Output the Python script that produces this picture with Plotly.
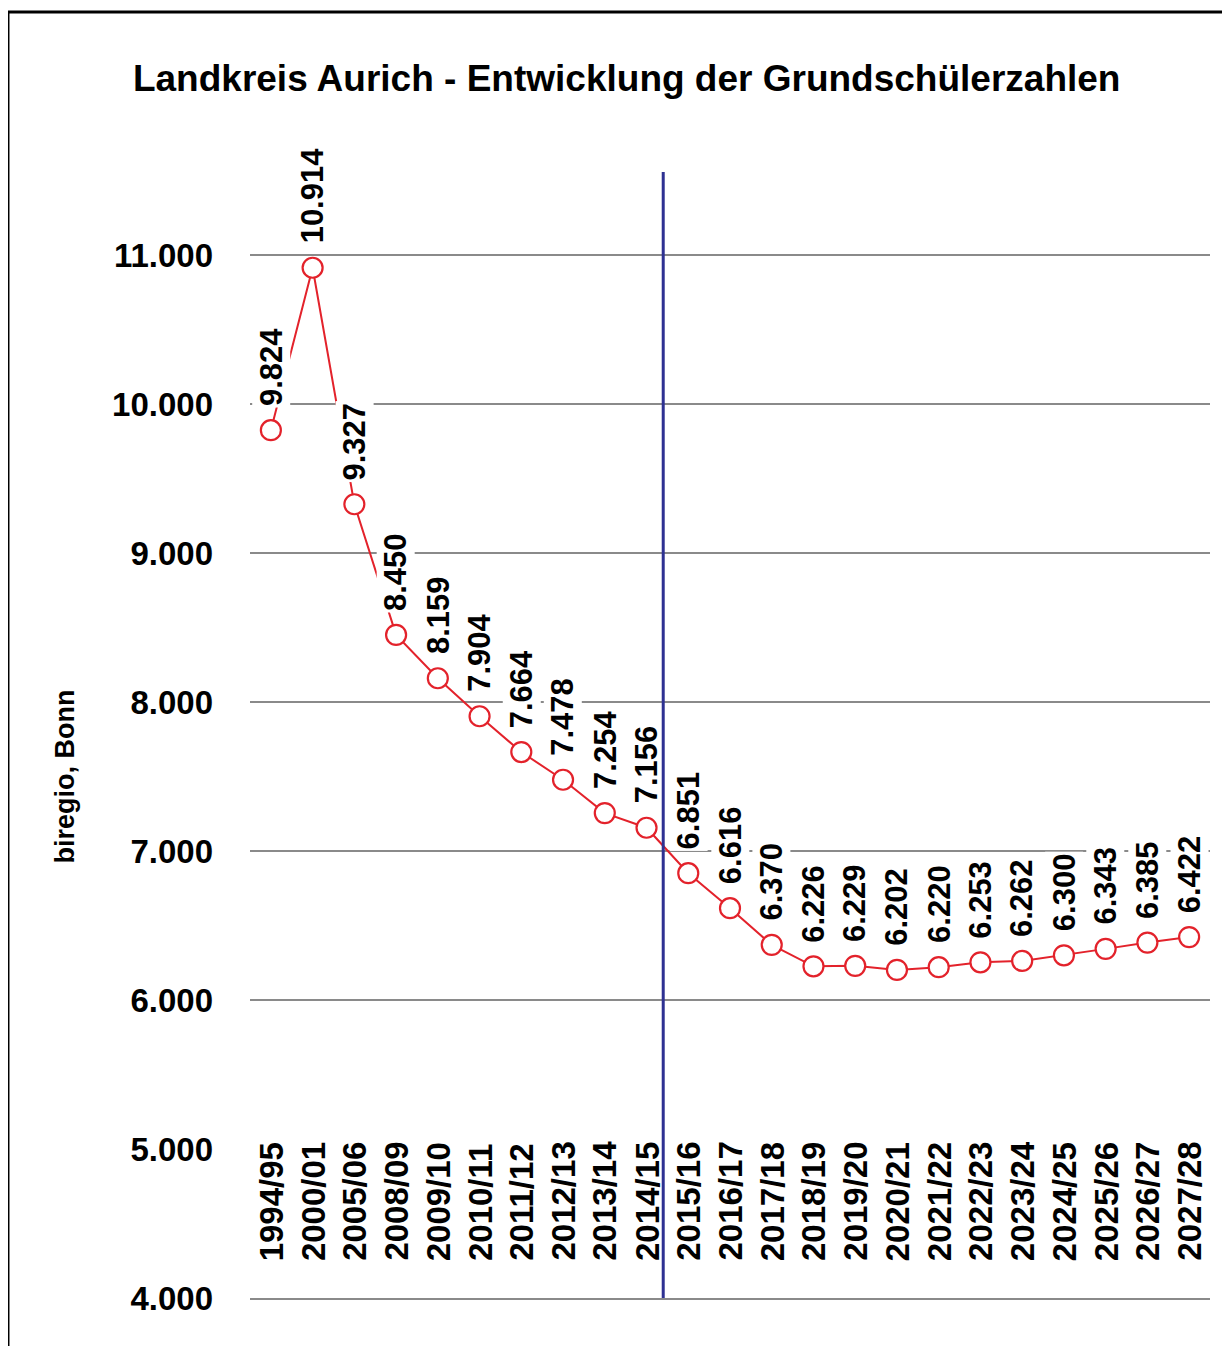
import plotly.graph_objects as go

# ---- data ----
categories = ["1994/95", "2000/01", "2005/06", "2008/09", "2009/10", "2010/11",
              "2011/12", "2012/13", "2013/14", "2014/15", "2015/16", "2016/17",
              "2017/18", "2018/19", "2019/20", "2020/21", "2021/22", "2022/23",
              "2023/24", "2024/25", "2025/26", "2026/27", "2027/28"]
pupils = [9824, 10914, 9327, 8450, 8159, 7904, 7664, 7478, 7254, 7156, 6851,
          6616, 6370, 6226, 6229, 6202, 6220, 6253, 6262, 6300, 6343, 6385, 6422]
y_ticks = [4000, 5000, 6000, 7000, 8000, 9000, 10000, 11000]
y_range = [4000, 11570]
forecast_split = 9.4   # between 2014/15 (actual) and 2015/16 (forecast)

title_text = "Landkreis Aurich - Entwicklung der Grundschülerzahlen"
source_text = "biregio, Bonn"

FONT = "Liberation Sans, Arial, sans-serif"
RED = "#e3222b"
BLUE = "#2e3192"
GRID = "#8a8a8a"


def de_fmt(v):
    return f"{v:,}".replace(",", ".")


fig = go.Figure()
fig.add_trace(go.Scatter(
    x=categories, y=pupils, mode="lines+markers",
    line=dict(color=RED, width=2),
    marker=dict(symbol="circle", size=20, color="white",
                line=dict(color=RED, width=2.2)),
    hoverinfo="skip", showlegend=False,
))

annotations = []
# value labels above points
for c, v in zip(categories, pupils):
    annotations.append(dict(
        x=c, y=v, xref="x", yref="y", text=de_fmt(v), showarrow=False,
        textangle=-90, yanchor="bottom", xanchor="center", yshift=22,
        font=dict(family=FONT, size=31, color="black", weight="bold"),
        bgcolor="white", borderpad=1,
    ))
# category labels inside plot, above bottom
for c in categories:
    annotations.append(dict(
        x=c, y=0, xref="x", yref="paper", text=c, showarrow=False,
        textangle=-90, yanchor="bottom", xanchor="center", yshift=35,
        height=40,
        font=dict(family=FONT, size=33, color="black", weight="bold"),
        bgcolor="white", borderpad=1,
    ))
# source / y label
annotations.append(dict(
    x=-0.193, y=0.462, xref="paper", yref="paper", text=source_text,
    showarrow=False, textangle=-90, xanchor="center", yanchor="middle",
    font=dict(family=FONT, size=27, color="black", weight="bold"),
))
# forecast divider (drawn last so it sits above the label backgrounds)
annotations.append(dict(
    x=forecast_split, y=y_range[0], xref="x", yref="y",
    ax=forecast_split, ay=y_range[1], axref="x", ayref="y",
    text=" ", font=dict(size=1), showarrow=True, arrowhead=0,
    arrowwidth=3, arrowcolor=BLUE, standoff=0, startstandoff=0,
))

shapes = [
    # outer frame (left & top, running off the page)
    dict(type="line", xref="paper", yref="paper", x0=-0.2521, x1=-0.2521,
         y0=1.1401, y1=-0.2, line=dict(color="black", width=3)),
    dict(type="line", xref="paper", yref="paper", x0=-0.2521, x1=1.2,
         y0=1.1401, y1=1.1401, line=dict(color="black", width=3)),
]

fig.update_layout(
    width=1230, height=1346,
    margin=dict(l=242, r=28, t=162, b=56),
    paper_bgcolor="white", plot_bgcolor="white",
    separators=",.",
    title=dict(text=title_text, x=0.503, xanchor="center", xref="container",
               y=1 - 70 / 1346, yanchor="middle", yref="container",
               font=dict(family=FONT, size=37, color="black", weight="bold")),
    xaxis=dict(type="category", range=[-0.5, len(categories) - 0.5],
               showticklabels=False, showgrid=False, zeroline=False,
               showline=True, linecolor=GRID, linewidth=2, ticks=""),
    yaxis=dict(range=y_range, tickvals=y_ticks, tickformat=",d",
               showgrid=True, gridcolor=GRID, gridwidth=2, zeroline=False,
               showline=False, ticks="", ticklabelstandoff=36,
               tickfont=dict(family=FONT, size=33, color="black", weight="bold")),
    annotations=annotations,
    shapes=shapes,
    showlegend=False,
)

fig.write_html("out.html")
